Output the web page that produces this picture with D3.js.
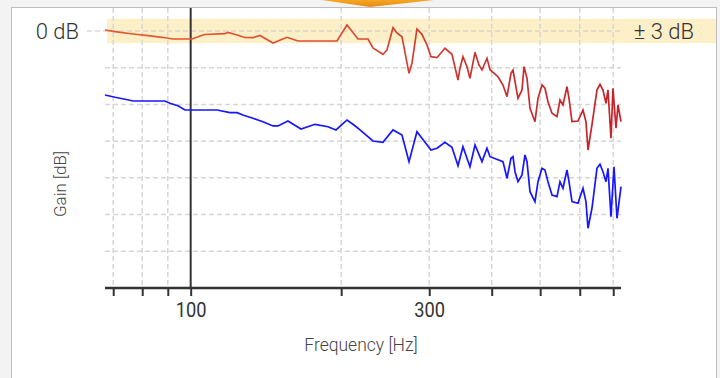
<!DOCTYPE html>
<html>
<head>
<meta charset="utf-8">
<script src="https://cdn.jsdelivr.net/npm/d3@7"></script>
<style>
  body { margin: 0; background: #f3f3f3; }
  svg { display: block; font-family: Roboto, "Noto Sans", sans-serif; }
</style>
</head>
<body>
<svg id="chart" width="720" height="378"></svg>
<script>
// frequency ticks (Hz) and the labelled ones
const xTicks = [70, 80, 90, 100, 200, 300, 400, 500, 600, 700];
const xLabels = [100, 300];
// gain grid lines (dB)
const yGrid = [-9, -18, -27, -36, -45, -54];

// measured response, top trace (Hz / dB)
const redFreq = [67.4, 70.6, 76.7, 82.2, 87.6, 92.2, 100.6, 104.4, 106.8, 117.1, 118.7, 123.8, 128.4, 133.2, 137.6, 146.1,
  155.8, 163.9, 196.2, 205.4, 216.1, 226.3, 231.5, 242.4, 246.9, 253.9, 258.6, 264.6, 273.3, 277.1, 283.5, 290.1,
  296.9, 302.4, 310.9, 322.5, 333.1, 342.5, 345.6, 350.4, 357.0, 361.9, 370.4, 377.2, 382.5, 391.4, 396.9, 411.7,
  421.3, 429.2, 437.1, 441.2, 445.3, 451.5, 459.9, 464.1, 470.6, 477.1, 488.2, 495.0, 504.2, 511.2, 518.3, 528.0,
  540.3, 547.8, 555.4, 565.7, 571.0, 578.9, 595.1, 609.0, 617.4, 623.2, 634.7, 649.5, 658.6, 667.7, 677.0, 683.3,
  692.8, 699.2, 709.0, 715.5, 725.5];
const redGain = [0.25, -0.17, -0.74, -1.15, -1.54, -1.96, -1.96, -1.23, -0.86, -0.66, -0.37, -0.98, -1.59, -1.64, -1.10, -2.94,
  -1.54, -2.45, -2.45, 1.47, -1.96, -1.96, -4.17, -5.71, -4.66, 0.81, -0.49, -1.40, -10.37, -7.84, 0.49, -0.81,
  -3.43, -6.30, -6.54, -4.24, -5.71, -12.01, -9.14, -6.30, -8.75, -11.59, -5.22, -8.33, -9.56, -6.69, -9.5, -11.20,
  -13.24, -16.10, -10.37, -9.56, -12.43, -16.50, -14.46, -8.75, -11.59, -18.95, -22.23, -16.50, -13.24, -14.04, -17.33, -20.17,
  -21.00, -16.91, -18.14, -13.65, -16.50, -22.23, -22.06, -19.36, -22.23, -29.17, -23.04, -14.46, -13.06, -14.46, -17.72, -14.46,
  -26.30, -14.04, -23.85, -18.14, -22.23];

// measured response, bottom trace (Hz / dB)
const blueFreq = [67.4, 70.6, 73.9, 76.7, 88.8, 90.9, 94.3, 97.4, 112.9, 119.8, 123.8, 127.2, 133.2, 139.5, 146.1, 149.5,
  156.5, 166.2, 177.3, 188.2, 195.3, 205.4, 212.1, 218.1, 231.5, 242.4, 253.9, 264.6, 273.3, 283.5, 290.1, 302.4,
  310.9, 322.5, 333.1, 342.5, 350.4, 361.9, 370.4, 382.5, 391.4, 396.9, 421.3, 429.2, 437.1, 441.2, 445.3, 451.5,
  459.9, 466.2, 470.6, 477.1, 488.2, 495.0, 504.2, 511.2, 518.3, 528.0, 540.3, 547.8, 555.4, 565.7, 571.0, 578.9,
  595.1, 609.0, 617.4, 623.2, 634.7, 649.5, 658.6, 667.7, 677.0, 683.3, 692.8, 702.5, 712.2, 725.5];
const blueGain = [-15.69, -16.25, -16.74, -17.16, -17.16, -17.72, -18.31, -19.36, -19.36, -20.02, -20.02, -20.59, -21.40, -22.23, -23.28, -23.28,
  -22.06, -24.02, -22.87, -23.46, -24.26, -21.81, -23.04, -24.26, -26.96, -27.28, -24.26, -25.49, -32.03, -24.68, -26.30, -29.17,
  -28.75, -27.28, -28.5, -33.01, -28.36, -33.26, -27.94, -32.03, -28.75, -30.81, -32.03, -36.10, -31.20, -30.81, -34.49, -36.94,
  -35.29, -30.39, -32.03, -39.39, -41.84, -36.94, -33.65, -34.07, -36.94, -40.20, -40.61, -36.94, -38.55, -34.07, -36.94, -41.84,
  -42.23, -38.55, -41.84, -48.36, -43.46, -33.65, -32.67, -34.49, -36.94, -33.65, -45.51, -33.26, -45.91, -38.16];

const svg = d3.select("#chart");
const plotTop = 8;

const x = d3.scaleLog().domain([67.4, 725.5]).range([105, 621]);
const y = d3.scaleLinear().domain([-63, 0]).range([288, 31]);

// card + decoration
svg.append("rect").attr("x", 11.5).attr("y", 7.5).attr("width", 705).attr("height", 380)
    .attr("fill", "#fff").attr("stroke", "#bdbdbd");
const tabGrad = svg.append("defs").append("linearGradient").attr("id", "tab")
    .attr("x1", 0).attr("x2", 0).attr("y1", 0).attr("y2", 1);
tabGrad.append("stop").attr("offset", 0).attr("stop-color", "#f5a623");
tabGrad.append("stop").attr("offset", 1).attr("stop-color", "#e88a12");
svg.append("path").attr("d", "M322,0 L434,0 L370,7 Z").attr("fill", "url(#tab)");

// ±3 dB tolerance band
svg.append("rect").attr("x", 107).attr("y", y(3)).attr("width", 609).attr("height", y(-3) - y(3))
    .attr("fill", "#fdf0c9");

// grid
svg.append("g").selectAll("line").data(xTicks.filter(d => d !== 100)).join("line")
    .attr("x1", d => x(d)).attr("x2", d => x(d)).attr("y1", plotTop).attr("y2", 288)
    .attr("stroke", "#d6d6d6").attr("stroke-width", 1.5).attr("stroke-dasharray", "5,3");
svg.append("g").selectAll("line").data(yGrid).join("line")
    .attr("x1", 105).attr("x2", 621).attr("y1", d => y(d)).attr("y2", d => y(d))
    .attr("stroke", "#d6d6d6").attr("stroke-width", 1.5).attr("stroke-dasharray", "5,3");
svg.append("line").attr("x1", 87).attr("x2", 621).attr("y1", y(0)).attr("y2", y(0))
    .attr("stroke", "#c8c8c8").attr("stroke-width", 1.2).attr("stroke-dasharray", "5,3");

// 100 Hz marker
svg.append("line").attr("x1", x(100)).attr("x2", x(100)).attr("y1", plotTop).attr("y2", 288)
    .attr("stroke", "#333").attr("stroke-width", 2);

// x axis
const xAxis = svg.append("g").attr("transform", "translate(0,288)")
    .call(d3.axisBottom(x).tickValues(xTicks).tickSize(8)
        .tickFormat(d => xLabels.includes(d) ? d : ""));
xAxis.select(".domain").attr("stroke", "#333").attr("stroke-width", 2.5).attr("d", "M105,0H621");
xAxis.selectAll(".tick line").attr("stroke", "#333").attr("stroke-width", 2);
xAxis.selectAll(".tick text").attr("fill", "#333").attr("font-size", 21).attr("font-family", "Roboto")
    .attr("y", 29).attr("dy", 0).attr("transform", "scale(0.87,1)");

// traces
const line = d3.line().x(d => x(d[0])).y(d => y(d[1]));
const redGrad = svg.select("defs").append("linearGradient").attr("id", "redgrad")
    .attr("gradientUnits", "userSpaceOnUse").attr("x1", 105).attr("x2", 621).attr("y1", 0).attr("y2", 0);
redGrad.append("stop").attr("offset", 0).attr("stop-color", "#e4592f");
redGrad.append("stop").attr("offset", 0.5).attr("stop-color", "#dc4a30");
redGrad.append("stop").attr("offset", 0.75).attr("stop-color", "#c83030");
redGrad.append("stop").attr("offset", 1).attr("stop-color", "#c4222a");

svg.append("path").datum(d3.zip(redFreq, redGain)).attr("d", line)
    .attr("fill", "none").attr("stroke", "url(#redgrad)").attr("stroke-width", 1.7);
svg.append("path").datum(d3.zip(blueFreq, blueGain)).attr("d", line)
    .attr("fill", "none").attr("stroke", "#1717ff").attr("stroke-width", 1.7);

// labels
svg.append("text").attr("x", 79).attr("y", 39).attr("text-anchor", "end")
    .attr("font-size", 22).attr("font-weight", 300).attr("fill", "#333").text("0 dB");
svg.append("text").attr("x", 694).attr("y", 39).attr("text-anchor", "end")
    .attr("font-size", 22).attr("font-weight", 300).attr("fill", "#333").text("± 3 dB");
svg.append("text").attr("x", 361).attr("y", 351).attr("text-anchor", "middle")
    .attr("font-size", 17.5).attr("font-weight", 300).attr("fill", "#444").text("Frequency [Hz]");
svg.append("text").attr("transform", "translate(66,184) rotate(-90)").attr("text-anchor", "middle")
    .attr("font-size", 17).attr("font-weight", 300).attr("fill", "#444").text("Gain [dB]");
</script>
</body>
</html>
